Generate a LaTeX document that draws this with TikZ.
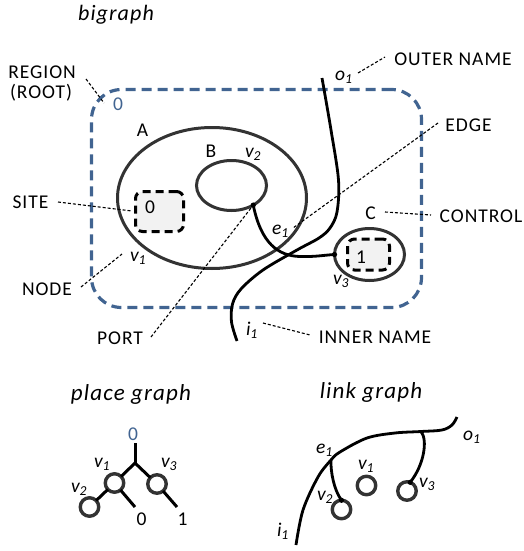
\documentclass[tikz,border=0pt]{standalone}
\usepackage{fontspec}
\setmainfont{Carlito}[LetterSpace=5]
\usetikzlibrary{shapes.geometric}
\definecolor{regblue}{HTML}{416491}
\definecolor{nodegray}{HTML}{333333}
\definecolor{sitefill}{HTML}{F2F2F2}
\begin{document}
\begin{tikzpicture}[x=1pt,y=1pt,
  lbl/.style={font=\fontsize{19.5}{22}\selectfont, inner sep=0pt, outer sep=0pt, anchor=base},
  sub/.style={lbl, anchor=base west},
  ttl/.style={font=\fontsize{23}{26}\selectfont\itshape, inner sep=0pt, anchor=base},
  regionbox/.style={draw=regblue, line width=3.2pt, dash pattern=on 10pt off 6pt,
    rounded corners=30pt, minimum width=330pt, minimum height=218pt, inner sep=0pt},
  bnode/.style={draw=nodegray, ellipse, line width=3pt, inner sep=0pt, outer sep=0pt},
  sitebox/.style={draw=black, fill=sitefill, line width=3pt, dash pattern=on 8pt off 5pt,
    rounded corners=7pt, inner sep=0pt},
  link/.style={draw=black, line width=2.8pt},
  pointer/.style={draw=black, line width=1.1pt, dash pattern=on 3pt off 2pt},
  tnode/.style={draw=nodegray, circle, line width=3.4pt, minimum size=18.5pt, inner sep=0pt, outer sep=0pt},
  tline/.style={draw=black, line width=3pt},
  portdot/.style={fill=black}
]
\useasboundingbox (0,0) rectangle (523,-551);

% ---------- bigraph ----------
\node[ttl, font=\fontsize{22}{25}\selectfont\itshape] (tbig) at (116,-21) {bigraph};

\node[regionbox] (root) at (256.5,-198.5) {};
\node[lbl, text=regblue] (root0) at (118,-110) {0};

\node[bnode, minimum width=189pt, minimum height=141pt] (A) at (212,-198) {};
\node[bnode, minimum width=70pt, minimum height=50pt] (B) at (231.5,-185.5) {};
\node[bnode, minimum width=70pt, minimum height=52pt] (C) at (369.5,-254.5) {};

\node[sitebox, minimum width=48pt, minimum height=40pt] (s0) at (159.5,-211.5) {};
\node[lbl] (s0l) at (150,-213) {0};
\node[sitebox, minimum width=42pt, minimum height=31pt] (s1) at (368.5,-254.5) {};
\node[lbl] (s1l) at (361,-263) {1};

\node[lbl] (lA) at (142.5,-136) {A};
\node[lbl] (lB) at (211,-157) {B};
\node[lbl] (lC) at (370.5,-219) {C};
\node[sub] (lv2) at (245,-157) {\textit{v\textsubscript{2}}};
\node[sub] (lv1) at (130,-261) {\textit{v\textsubscript{1}}};
\node[sub] (lv3) at (333,-284) {\textit{v\textsubscript{3}}};
\node[sub] (le1) at (272,-234) {\textit{e\textsubscript{1}}};
\node[sub] (lo1) at (335,-80) {\textit{o\textsubscript{1}}};
\node[sub] (li1) at (246,-335) {\textit{i\textsubscript{1}}};

% ports
\coordinate (p2) at (B.-42);
\coordinate (p3) at (C.west);
% outer / inner name ends
\coordinate (o1) at (322,-78);
\coordinate (i1) at (237,-341);

% edge
\draw[link] plot[smooth, tension=0.55] coordinates {(o1) (331,-130) (338.5,-180) (337,-212) (330,-228) (319,-238) (297,-250) (263,-270) (241,-289) (232.5,-304) (231.5,-322) (i1)};
\draw[link] (p2) .. controls (261,-243) and (278,-256) .. (300,-256.5)
  .. controls (315,-257) and (325,-255) .. (p3);
\fill[portdot] (p2) circle (2.6pt);
\fill[portdot] (p3) circle (2.6pt);

% annotation labels
\node[lbl] (tRegion) at (42,-78) {REGION};
\node[lbl] (tRoot) at (41,-98) {(ROOT)};
\node[lbl] (tOuter) at (453,-65) {OUTER NAME};
\node[lbl] (tEdge) at (468.5,-131) {EDGE};
\node[lbl] (tSite) at (30.5,-208) {SITE};
\node[lbl] (tControl) at (481,-222) {CONTROL};
\node[lbl] (tNode) at (47,-295) {NODE};
\node[lbl] (tPort) at (120,-344) {PORT};
\node[lbl] (tInner) at (375,-343) {INNER NAME};

\coordinate (aR1) at (86,-79);   \coordinate (aR2) at (104,-103);
\coordinate (aO1) at (358,-73);  \coordinate (aO2) at (385,-57);
\coordinate (aE1) at (438,-123); \coordinate (aE2) at (293,-228);
\coordinate (aS1) at (58,-202);  \coordinate (aS2) at (132,-211);
\coordinate (aN1) at (81,-287);  \coordinate (aN2) at (122,-254);
\coordinate (aP1) at (151,-337);
\coordinate (aC1) at (385,-212); \coordinate (aC2) at (431,-215);
\coordinate (aI1) at (263,-323); \coordinate (aI2) at (310,-335);
\draw[pointer] (aR1) -- (aR2);
\draw[pointer] (aO1) -- (aO2);
\draw[pointer] (aE1) -- (aE2);
\draw[pointer] (aS1) -- (aS2);
\draw[pointer] (aN1) -- (aN2);
\draw[pointer] (aP1) -- (p2);
\draw[pointer] (aC1) -- (aC2);
\draw[pointer] (aI1) -- (aI2);

% ---------- place graph ----------
\node[ttl] (tplace) at (131,-400) {place graph};
\node[lbl, text=regblue] (proot) at (133,-440) {0};
\coordinate (pst) at (135,-443);
\coordinate (pj) at (135,-463);
\node[tnode] (pv1) at (114.5,-483) {};
\node[tnode] (pv2) at (89.5,-507) {};
\node[tnode] (pv3) at (157,-484) {};
\coordinate (pl0) at (135,-507);
\coordinate (pl1) at (177,-507);
\draw[tline] (pst) -- (pj);
\draw[tline] (pj) -- (pv1);
\draw[tline] (pj) -- (pv3);
\draw[tline] (pv1) -- (pv2);
\draw[tline] (pv1) -- (pl0);
\draw[tline] (pv3) -- (pl1);
\node[lbl] (pleaf0) at (141.5,-525) {0};
\node[lbl] (pleaf1) at (182.5,-525) {1};
\node[sub] (plv1) at (94,-467) {\textit{v\textsubscript{1}}};
\node[sub] (plv3) at (161,-467) {\textit{v\textsubscript{3}}};
\node[sub] (plv2) at (71,-492) {\textit{v\textsubscript{2}}};

% ---------- link graph ----------
\node[ttl] (tlink) at (371,-398) {link graph};
\node[tnode] (gv2) at (341.5,-509.5) {};
\node[tnode] (gv1) at (366.5,-485.5) {};
\node[tnode] (gv3) at (407,-491) {};
\coordinate (gi1) at (296,-545);
\coordinate (go1) at (457,-417);
\coordinate (gj2) at (331,-460);
\coordinate (gj3) at (421,-431.5);
\draw[link] plot[smooth, tension=0.55] coordinates {(gi1) (303,-510) (318,-477) (gj2) (340,-452) (367,-438) (395,-433) (gj3) (442,-430) (452,-425) (go1)};
\draw[link] (gj2) .. controls (330.5,-472) and (334,-490) .. (gv2.north);
\draw[link] (gj3) .. controls (428,-440) and (424,-465) .. (gv3.70);
\fill[portdot] (gv2.north) circle (2.6pt);
\fill[portdot] (gv3.70) circle (2.6pt);
\node[sub] (gle1) at (316,-453) {\textit{e\textsubscript{1}}};
\node[sub] (glv1) at (358,-469) {\textit{v\textsubscript{1}}};
\node[sub] (glv2) at (317,-500) {\textit{v\textsubscript{2}}};
\node[sub] (glv3) at (419,-487) {\textit{v\textsubscript{3}}};
\node[sub] (glo1) at (463,-440) {\textit{o\textsubscript{1}}};
\node[sub] (gli1) at (277,-536) {\textit{i\textsubscript{1}}};
\end{tikzpicture}
\end{document}
